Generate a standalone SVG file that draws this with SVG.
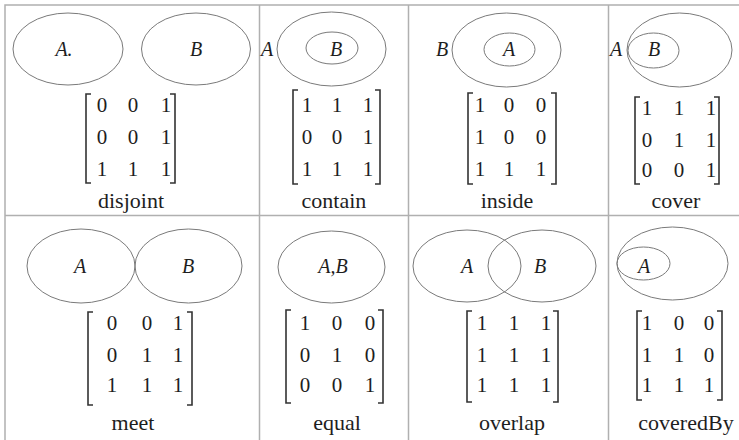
<svg xmlns="http://www.w3.org/2000/svg" width="739" height="440" viewBox="0 0 739 440">
<style>
.grid{stroke:#b0b0b0;stroke-width:1.5;fill:none}
.el{fill:none;stroke:#7a7a7a;stroke-width:1}
.br{fill:none;stroke:#333;stroke-width:1.6}
text{font-family:'Liberation Serif','Times New Roman',Tinos,'Noto Serif','DejaVu Serif',serif;fill:#1e1e1e;text-anchor:middle}
.d{font-size:21px}
.v{font-size:20px;font-style:italic}
.t{font-size:22px}
</style>
<rect width="739" height="440" fill="#ffffff"/>
<g id="grid">
<path class="grid" d="M5,440 V5 H739 M5,215.5 H739 M259.5,5 V440 M408.5,5 V440 M608.5,5 V440"/>
</g>
<g id="disjoint">
<ellipse class="el" cx="68" cy="49" rx="55" ry="36"/>
<ellipse class="el" cx="196" cy="49" rx="54.5" ry="36"/>
<text class="v" x="64" y="56">A.</text>
<text class="v" x="196" y="56">B</text>
<path class="br" d="M91,94 H86 V183 H91 M170,94 H175 V183 H170"/>
<text class="d" y="112"><tspan x="102">0</tspan><tspan x="133">0</tspan><tspan x="166">1</tspan></text>
<text class="d" y="144"><tspan x="102">0</tspan><tspan x="133">0</tspan><tspan x="166">1</tspan></text>
<text class="d" y="176"><tspan x="102">1</tspan><tspan x="133">1</tspan><tspan x="166">1</tspan></text>
<text class="t" x="131" y="208">disjoint</text>
</g>
<g id="contain">
<ellipse class="el" cx="331.5" cy="49" rx="54.5" ry="37"/>
<ellipse class="el" cx="332" cy="48" rx="26" ry="16"/>
<text class="v" x="267" y="56">A</text>
<text class="v" x="336" y="56">B</text>
<path class="br" d="M298,90 H293 V184 H298 M375,90 H380 V184 H375"/>
<text class="d" y="112"><tspan x="307">1</tspan><tspan x="337">1</tspan><tspan x="368">1</tspan></text>
<text class="d" y="144"><tspan x="307">0</tspan><tspan x="337">0</tspan><tspan x="368">1</tspan></text>
<text class="d" y="176"><tspan x="307">1</tspan><tspan x="337">1</tspan><tspan x="368">1</tspan></text>
<text class="t" x="334" y="208">contain</text>
</g>
<g id="inside">
<ellipse class="el" cx="506.5" cy="50" rx="54.5" ry="37"/>
<ellipse class="el" cx="509.5" cy="49.5" rx="25.5" ry="16.5"/>
<text class="v" x="442" y="56">B</text>
<text class="v" x="509" y="56">A</text>
<path class="br" d="M473,93 H468 V184 H473 M551,93 H556 V184 H551"/>
<text class="d" y="112"><tspan x="480">1</tspan><tspan x="509">0</tspan><tspan x="541">0</tspan></text>
<text class="d" y="144"><tspan x="480">1</tspan><tspan x="509">0</tspan><tspan x="541">0</tspan></text>
<text class="d" y="176"><tspan x="480">1</tspan><tspan x="509">1</tspan><tspan x="541">1</tspan></text>
<text class="t" x="507" y="208">inside</text>
</g>
<g id="cover">
<ellipse class="el" cx="679.5" cy="50" rx="52.5" ry="37"/>
<ellipse class="el" cx="653.5" cy="50.5" rx="25.5" ry="17.5"/>
<text class="v" x="616" y="56">A</text>
<text class="v" x="654" y="56">B</text>
<path class="br" d="M640,97 H635 V184 H640 M714,97 H719 V184 H714"/>
<text class="d" y="115"><tspan x="647">1</tspan><tspan x="679">1</tspan><tspan x="711">1</tspan></text>
<text class="d" y="147"><tspan x="647">0</tspan><tspan x="679">1</tspan><tspan x="711">1</tspan></text>
<text class="d" y="177"><tspan x="647">0</tspan><tspan x="679">0</tspan><tspan x="711">1</tspan></text>
<text class="t" x="676" y="208">cover</text>
</g>
<g id="meet">
<ellipse class="el" cx="81" cy="266" rx="54" ry="37"/>
<ellipse class="el" cx="188.5" cy="266" rx="53.5" ry="37"/>
<text class="v" x="80" y="273">A</text>
<text class="v" x="188" y="273">B</text>
<path class="br" d="M93,312 H88 V405 H93 M187,312 H192 V405 H187"/>
<text class="d" y="330"><tspan x="112">0</tspan><tspan x="147">0</tspan><tspan x="178">1</tspan></text>
<text class="d" y="362"><tspan x="112">0</tspan><tspan x="147">1</tspan><tspan x="178">1</tspan></text>
<text class="d" y="392"><tspan x="112">1</tspan><tspan x="147">1</tspan><tspan x="178">1</tspan></text>
<text class="t" x="133" y="430">meet</text>
</g>
<g id="equal">
<ellipse class="el" cx="331.5" cy="267" rx="53.5" ry="36"/>
<text class="v" x="333" y="273">A,B</text>
<path class="br" d="M291,310 H286 V403 H291 M378,310 H383 V403 H378"/>
<text class="d" y="330"><tspan x="305">1</tspan><tspan x="337">0</tspan><tspan x="370">0</tspan></text>
<text class="d" y="362"><tspan x="305">0</tspan><tspan x="337">1</tspan><tspan x="370">0</tspan></text>
<text class="d" y="392"><tspan x="305">0</tspan><tspan x="337">0</tspan><tspan x="370">1</tspan></text>
<text class="t" x="337" y="430">equal</text>
</g>
<g id="overlap">
<ellipse class="el" cx="467" cy="266" rx="54" ry="36"/>
<ellipse class="el" cx="542" cy="266" rx="54" ry="36"/>
<text class="v" x="467" y="273">A</text>
<text class="v" x="540" y="273">B</text>
<path class="br" d="M472,311 H467 V402 H472 M553,311 H558 V402 H553"/>
<text class="d" y="330"><tspan x="482">1</tspan><tspan x="514">1</tspan><tspan x="546">1</tspan></text>
<text class="d" y="362"><tspan x="482">1</tspan><tspan x="514">1</tspan><tspan x="546">1</tspan></text>
<text class="d" y="392"><tspan x="482">1</tspan><tspan x="514">1</tspan><tspan x="546">1</tspan></text>
<text class="t" x="512" y="430">overlap</text>
</g>
<g id="coveredBy">
<ellipse class="el" cx="672.5" cy="263.5" rx="55.5" ry="36.5"/>
<ellipse class="el" cx="643.5" cy="263.5" rx="26.5" ry="16.5"/>
<text class="v" x="644" y="273">A</text>
<path class="br" d="M642,311 H637 V400 H642 M717,311 H722 V400 H717"/>
<text class="d" y="330"><tspan x="647">1</tspan><tspan x="679">0</tspan><tspan x="709">0</tspan></text>
<text class="d" y="362"><tspan x="647">1</tspan><tspan x="679">1</tspan><tspan x="709">0</tspan></text>
<text class="d" y="392"><tspan x="647">1</tspan><tspan x="679">1</tspan><tspan x="709">1</tspan></text>
<text class="t" x="686" y="430">coveredBy</text>
</g>
<g id="connectors"></g>
</svg>
